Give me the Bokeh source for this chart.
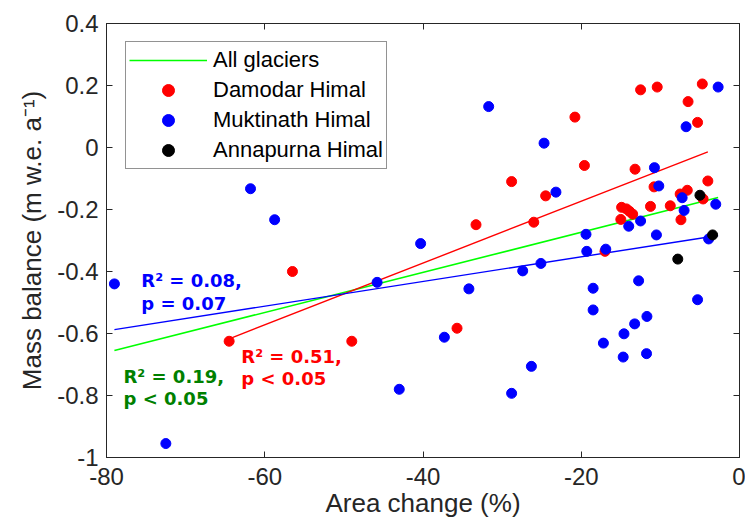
from bokeh.plotting import figure
from bokeh.models import Range1d, LinearAxis, FixedTicker, Legend, LegendItem, Label
from bokeh.embed import file_html
from bokeh.resources import INLINE

# ---- data ----
damodar_x = [-64.5, -56.5, -49.0, -35.7, -33.3, -28.8, -26.0, -24.5, -20.8, -19.6,
             -17.0, -15.0, -14.9, -14.3, -13.9, -13.5, -13.2, -12.5, -11.25, -10.8,
             -10.4, -8.75, -7.5, -7.4, -6.6, -6.5, -5.3, -4.7, -4.6, -4.0]
damodar_y = [-0.625, -0.40, -0.625, -0.583, -0.249, -0.11, -0.241, -0.156, 0.098, -0.058,
             -0.335, -0.232, -0.193, -0.198, -0.206, -0.215, -0.07, 0.186, -0.19, -0.127,
             0.195, -0.188, -0.15, -0.233, -0.138, 0.148, 0.081, 0.205, -0.166, -0.108]

muktinath_x = [-79.0, -72.5, -61.8, -58.75, -45.8, -43.0, -40.3, -37.3, -34.2, -31.7,
               -28.8, -27.4, -26.3, -25.1, -24.7, -23.2, -19.4, -19.3, -18.5, -18.5,
               -17.2, -16.9, -14.7, -14.6, -14.0, -13.25, -12.75, -12.5, -11.75, -11.7,
               -10.75, -10.5, -10.2, -7.25, -7.0, -6.75, -5.3, -3.9, -3.0, -2.7]
muktinath_y = [-0.44, -0.955, -0.133, -0.233, -0.435, -0.78, -0.31, -0.612, -0.456, 0.132,
               -0.793, -0.398, -0.706, -0.374, 0.014, -0.144, -0.28, -0.335, -0.454, -0.524,
               -0.631, -0.328, -0.676, -0.601, -0.254, -0.569, -0.43, -0.237, -0.665, -0.545,
               -0.065, -0.282, -0.124, -0.162, -0.203, 0.067, -0.491, -0.295, -0.183, 0.195]

annapurna_x = [-7.8, -5.0, -3.4]
annapurna_y = [-0.36, -0.154, -0.282]

# regression lines (slope, intercept)
fit_all = (0.00647, -0.144)
fit_damodar = (0.00997, 0.026)
fit_muktinath = (0.00398, -0.273)

x_ticks = [-80, -60, -40, -20, 0]
x_tick_labels = ["-80", "-60", "-40", "-20", "0"]
y_ticks = [-1, -0.8, -0.6, -0.4, -0.2, 0, 0.2, 0.4]
y_tick_labels = ["-1", "-0.8", "-0.6", "-0.4", "-0.2", "0", "0.2", "0.4"]

stats_all = ["R\u00b2 = 0.19,", "p < 0.05"]
stats_damodar = ["R\u00b2 = 0.51,", "p < 0.05"]
stats_muktinath = ["R\u00b2 = 0.08,", "p = 0.07"]

FONT = "Liberation Sans"
AX = "#262626"

p = figure(width=745, height=523, x_range=Range1d(-80, 0), y_range=Range1d(-1, 0.4),
           output_backend="svg", toolbar_location=None,
           min_border_left=106, min_border_right=6, min_border_top=23, min_border_bottom=66)
p.grid.visible = False
p.outline_line_color = AX
p.background_fill_color = "white"
p.border_fill_color = "white"


def style_axis(ax, ticks, labels, show_labels=True):
    ax.ticker = FixedTicker(ticks=ticks)
    ax.minor_tick_line_color = None
    ax.major_tick_in = 6
    ax.major_tick_out = 0
    ax.axis_line_color = AX
    ax.major_tick_line_color = AX
    if show_labels:
        ax.major_label_overrides = {t: l for t, l in zip(ticks, labels)}
        ax.major_label_text_font = FONT
        ax.major_label_text_color = AX
        ax.major_label_text_font_size = "24px"
        ax.major_label_standoff = 8
    else:
        ax.major_label_text_font_size = "1px"
        ax.major_label_text_color = None
        ax.major_label_text_alpha = 0
        ax.major_label_standoff = 0


xa = p.xaxis[0]
style_axis(xa, x_ticks, x_tick_labels)
xa.major_label_standoff = 10
xa.axis_label = "Area change (%)"
xa.axis_label_text_font = FONT
xa.axis_label_text_font_size = "26px"
xa.axis_label_text_font_style = "normal"
xa.axis_label_text_color = AX
xa.axis_label_standoff = 0

ya = p.yaxis[0]
style_axis(ya, y_ticks, y_tick_labels)
ya.axis_label = "Mass balance (m w.e. a\u207b\u00b9)"
ya.axis_label_text_font = FONT
ya.axis_label_text_font_size = "26px"
ya.axis_label_text_font_style = "normal"
ya.axis_label_text_color = AX
ya.axis_label_standoff = 7

top_ax = LinearAxis(axis_label=None)
style_axis(top_ax, x_ticks, x_tick_labels, show_labels=False)
p.add_layout(top_ax, "above")
right_ax = LinearAxis(axis_label=None)
style_axis(right_ax, y_ticks, y_tick_labels, show_labels=False)
p.add_layout(right_ax, "right")

# regression lines
all_x = damodar_x + muktinath_x + annapurna_x


def fit_line(xs, fit):
    x0, x1 = min(xs), max(xs)
    return [x0, x1], [fit[0] * x0 + fit[1], fit[0] * x1 + fit[1]]


lx, ly = fit_line(all_x, fit_all)
r_all = p.line(lx, ly, line_color="#00ff00", line_width=1.6)
lx, ly = fit_line(damodar_x, fit_damodar)
p.line(lx, ly, line_color="#ff0000", line_width=1.4)
lx, ly = fit_line(muktinath_x, fit_muktinath)
p.line(lx, ly, line_color="#0000ff", line_width=1.4)

r_dam = p.scatter(damodar_x, damodar_y, size=10, fill_color="#ff0000", line_color="#ff0000")
r_muk = p.scatter(muktinath_x, muktinath_y, size=10, fill_color="#0000ff", line_color="#0000ff")
r_ann = p.scatter(annapurna_x, annapurna_y, size=10, fill_color="#000000", line_color="#000000")

legend = Legend(items=[
    LegendItem(label="All glaciers", renderers=[r_all]),
    LegendItem(label="Damodar Himal", renderers=[r_dam]),
    LegendItem(label="Muktinath Himal", renderers=[r_muk]),
    LegendItem(label="Annapurna Himal", renderers=[r_ann]),
], location=(19, 288))
legend.label_text_font = FONT
legend.label_text_font_size = "22px"
legend.label_text_color = "#000000"
legend.border_line_color = AX
legend.border_line_width = 1
legend.background_fill_color = "white"
legend.background_fill_alpha = 1
legend.padding = 3
legend.spacing = 0
legend.glyph_height = 30
legend.label_height = 30
legend.glyph_width = 78
legend.label_standoff = 6
legend.margin = 0
p.add_layout(legend)


# statistics annotations
def add_stats(lines, x, y0, dy, color):
    for i, t in enumerate(lines):
        p.add_layout(Label(x=x, y=y0 - i * dy, text=t, text_font="DejaVu Sans",
                           text_font_style="bold", text_font_size="18px",
                           text_color=color, text_baseline="alphabetic", text_align="left"))


add_stats(stats_muktinath, -75.6, -0.430, 0.072, "#0000ff")
add_stats(stats_all, -77.85, -0.739, 0.070, "#008000")
add_stats(stats_damodar, -62.96, -0.674, 0.070, "#ff0000")

open("out.html", "w").write(file_html(p, INLINE))
